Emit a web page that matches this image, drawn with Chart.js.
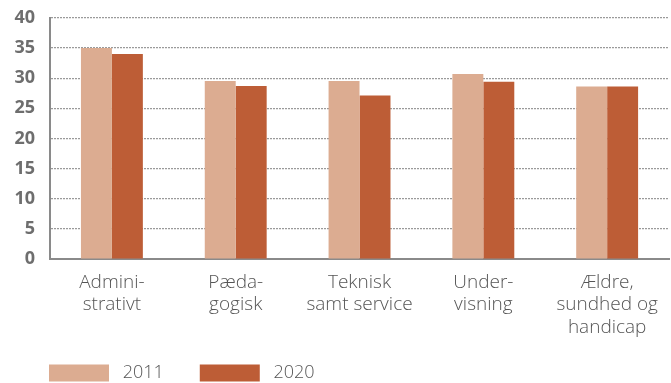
<!DOCTYPE html>
<html><head><meta charset="utf-8">
<script src="https://cdn.jsdelivr.net/npm/chart.js@4.4.1/dist/chart.umd.min.js"></script>
<style>html,body{margin:0;padding:0;background:#fff}#wrap{width:671px;height:383px}</style>
</head><body><div id="wrap"><canvas id="c" width="671" height="383"></canvas></div>
<script>
const categories = [["Admini-","strativt"],["Pæda-","gogisk"],["Teknisk","samt service"],["Under-","visning"],["Ældre,","sundhed og","handicap"]];
const values2011 = [35.0, 29.5, 29.5, 30.7, 28.6];
const values2020 = [34.0, 28.7, 27.1, 29.4, 28.6];
const seriesNames = ["2011","2020"];
const yTicks = [0,5,10,15,20,25,30,35,40];

new Chart(document.getElementById('c'), {
  type: 'bar',
  data: {
    labels: categories,
    datasets: [
      {label: seriesNames[0], data: values2011, backgroundColor: '#dcac91', categoryPercentage: 0.5, barPercentage: 1.0},
      {label: seriesNames[1], data: values2020, backgroundColor: '#bd5d36', categoryPercentage: 0.5, barPercentage: 1.0}
    ]
  },
  options: {
    responsive: false,
    animation: false,
    layout: {padding: {left: 13, right: 1, top: 0, bottom: 0}},
    plugins: {
      tooltip: {enabled: false},
      legend: {
        position: 'bottom', align: 'start', maxHeight: 55,
        labels: {
          boxWidth: 60, boxHeight: 17, padding: 36, color: '#555',
          font: {family: 'Open Sans', size: 18, weight: '300'},
          generateLabels: chart => Chart.defaults.plugins.legend.labels.generateLabels(chart).map(l => Object.assign(l, {text: ' ' + l.text}))
        }
      }
    },
    scales: {
      x: {
        afterFit: s => { s.height = 69; s._computeLabelArea = () => undefined; },
        grid: {display: false, drawTicks: false},
        border: {color: '#8a8a8a', width: 2},
        ticks: {color: '#555', padding: 13, maxRotation: 0, font: {family: 'Open Sans', size: 19, weight: '300', lineHeight: 1.16}}
      },
      y: {
        min: 0, max: 40,
        afterFit: s => { s.width = 37; },
        afterBuildTicks: s => { s.ticks = yTicks.map(v => ({value: v})); },
        grid: {color: '#9a9a9a', drawTicks: true, tickLength: 8, tickColor: 'rgba(0,0,0,0)', lineWidth: 1.2},
        border: {color: '#8a8a8a', width: 2, dash: [2,1]},
        ticks: {color: '#6e6e6e', padding: 7, font: {family: 'Open Sans', size: 18, weight: 'bold'}}
      }
    }
  }
});
</script></body></html>
